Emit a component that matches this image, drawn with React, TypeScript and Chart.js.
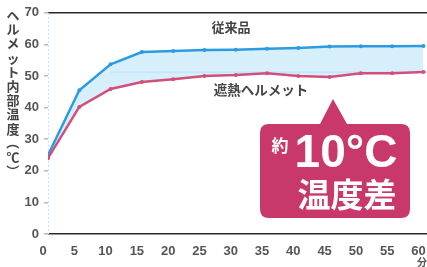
import React, { useEffect, useRef } from 'react';
import { Chart, registerables } from 'chart.js';

Chart.register(...registerables);

// ---- data ----
const minutes = [0, 5, 10, 15, 20, 25, 30, 35, 40, 45, 50, 55, 60];
const conventional = [25, 45.5, 53.7, 57.6, 57.9, 58.2, 58.3, 58.6, 58.9, 59.3, 59.4, 59.4, 59.5];
const heatShield = [24, 40.2, 45.9, 48.1, 49, 50, 50.3, 50.9, 50, 49.7, 50.9, 50.9, 51.3];
const guideStart = 10;
const guideEnd = 62;
const guideLevel = 51.2;
const xTickValues = [0, 5, 10, 15, 20, 25, 30, 35, 40, 45, 50, 55, 60];
const yTickValues = [0, 10, 20, 30, 40, 50, 60, 70];

const seriesNames = ['従来品', '遮熱ヘルメット'];
const yTitle = 'ヘルメット内部温度（℃）';
const xUnit = '分';
const calloutSmall = '約';
const calloutBig = '10°C';
const calloutSub = '温度差';

const CJK = '"Noto Sans CJK JP", "Noto Sans", sans-serif';
const LATIN = '"Liberation Sans", Arial, sans-serif';

const decorPlugin = {
  id: 'decor',
  beforeDatasetsDraw(chart: any) {
    const ctx = chart.ctx as CanvasRenderingContext2D;
    const a = chart.chartArea;
    ctx.save();
    ctx.strokeStyle = '#c4e2f2';
    ctx.lineWidth = 1;
    ctx.setLineDash([2, 2]);
    ctx.beginPath();
    ctx.moveTo(a.left + 0.5, a.top);
    ctx.lineTo(a.left + 0.5, a.bottom);
    ctx.stroke();
    ctx.restore();
  },
  afterDatasetsDraw(chart: any) {
    const ctx = chart.ctx as CanvasRenderingContext2D;
    ctx.save();
    // series labels
    ctx.fillStyle = '#444';
    ctx.textAlign = 'center';
    ctx.textBaseline = 'middle';
    ctx.font = `bold 13px ${CJK}`;
    ctx.fillText(seriesNames[0], 231, 27);
    ctx.font = `bold 13.5px ${CJK}`;
    ctx.fillText(seriesNames[1], 261, 90);

    // vertical y title
    ctx.font = `bold 13px ${CJK}`;
    ctx.fillStyle = '#444';
    const chars = Array.from(yTitle);
    let y = 15;
    for (const ch of chars) {
      if (ch === '（' || ch === '）') {
        ctx.save();
        ctx.translate(13, y);
        ctx.rotate(Math.PI / 2);
        ctx.fillText(ch, 0, 0);
        ctx.restore();
      } else {
        ctx.fillText(ch, 13, y);
      }
      y += 14.2;
    }

    // x unit
    ctx.font = `bold 10px ${CJK}`;
    ctx.fillStyle = '#555';
    ctx.fillText(xUnit, 422, 262);

    // callout
    const L = 260, R = 410, T = 124, B = 218, r = 9;
    ctx.fillStyle = '#c8386a';
    ctx.beginPath();
    ctx.moveTo(L + r, T);
    ctx.lineTo(320, T);
    ctx.lineTo(333, 99);
    ctx.lineTo(347, T);
    ctx.lineTo(R - r, T);
    ctx.quadraticCurveTo(R, T, R, T + r);
    ctx.lineTo(R, B - r);
    ctx.quadraticCurveTo(R, B, R - r, B);
    ctx.lineTo(L + r, B);
    ctx.quadraticCurveTo(L, B, L, B - r);
    ctx.lineTo(L, T + r);
    ctx.quadraticCurveTo(L, T, L + r, T);
    ctx.closePath();
    ctx.fill();

    ctx.fillStyle = '#ffffff';
    ctx.font = `bold 17px ${CJK}`;
    ctx.fillText(calloutSmall, 280, 146);
    ctx.font = `bold 46px ${LATIN}`;
    ctx.fillText(calloutBig, 346, 154);
    ctx.font = `bold 33px ${CJK}`;
    ctx.fillText(calloutSub, 347, 194);
    ctx.restore();
  },
};

export default function App() {
  const ref = useRef<HTMLCanvasElement>(null);
  useEffect(() => {
    document.body.style.margin = '0';
    document.body.style.overflow = 'hidden';
    const canvas = ref.current!;
    const chart = new Chart(canvas, {
      type: 'line',
      data: {
        datasets: [
          {
            label: seriesNames[0],
            data: minutes.map((m, i) => ({ x: m, y: conventional[i] })),
            borderColor: '#2c9be0',
            backgroundColor: 'rgba(200,233,249,0.75)',
            borderWidth: 2.5,
            pointRadius: 2,
            pointBackgroundColor: '#2c9be0',
            pointBorderWidth: 0,
            fill: 1,
            tension: 0,
            order: 1,
          },
          {
            label: seriesNames[1],
            data: minutes.map((m, i) => ({ x: m, y: heatShield[i] })),
            borderColor: '#d24f7c',
            backgroundColor: '#d24f7c',
            borderWidth: 2.5,
            pointRadius: 2,
            pointBackgroundColor: '#d24f7c',
            pointBorderWidth: 0,
            fill: false,
            tension: 0,
            order: 0,
          },
          {
            label: 'guide',
            data: [
              { x: guideStart, y: guideLevel },
              { x: guideEnd, y: guideLevel },
            ],
            borderColor: '#9fd0ee',
            borderWidth: 1.2,
            pointRadius: 0,
            fill: false,
            order: 2,
          },
        ],
      },
      options: {
        responsive: false,
        animation: false,
        layout: { padding: { top: 12, left: 0, right: 0, bottom: 0 } },
        plugins: { legend: { display: false }, tooltip: { enabled: false } },
        scales: {
          x: {
            type: 'linear',
            min: 0,
            max: 62,
            afterFit: (s: any) => { s.height = 33; },
            afterBuildTicks: (s: any) => { s.ticks = xTickValues.map((v) => ({ value: v })); },
            ticks: {
              includeBounds: false,
              labelOffset: -5,
              padding: 2,
              color: '#555',
              font: { family: LATIN, size: 13, weight: 'bold' },
              maxRotation: 0,
              autoSkip: false,
            },
            grid: { display: false },
            border: { display: false },
          },
          y: {
            min: 0,
            max: 70,
            afterFit: (s: any) => { s.width = 48; },
            afterBuildTicks: (s: any) => { s.ticks = yTickValues.map((v) => ({ value: v })); },
            ticks: {
              padding: 5,
              color: '#555',
              font: { family: LATIN, size: 13, weight: 'bold' },
            },
            grid: {
              color: (c: any) => (c.tick && (c.tick.value === 0 || c.tick.value === 70) ? '#2a2a2a' : 'rgba(0,0,0,0)'),
              lineWidth: 1.5,
              tickColor: '#bbbbbb',
              tickLength: 4,
            },
            border: { display: false },
          },
        },
      },
      plugins: [decorPlugin],
    } as any);
    return () => chart.destroy();
  }, []);
  return <canvas ref={ref} width={440} height={267} style={{ display: 'block' }} />;
}
